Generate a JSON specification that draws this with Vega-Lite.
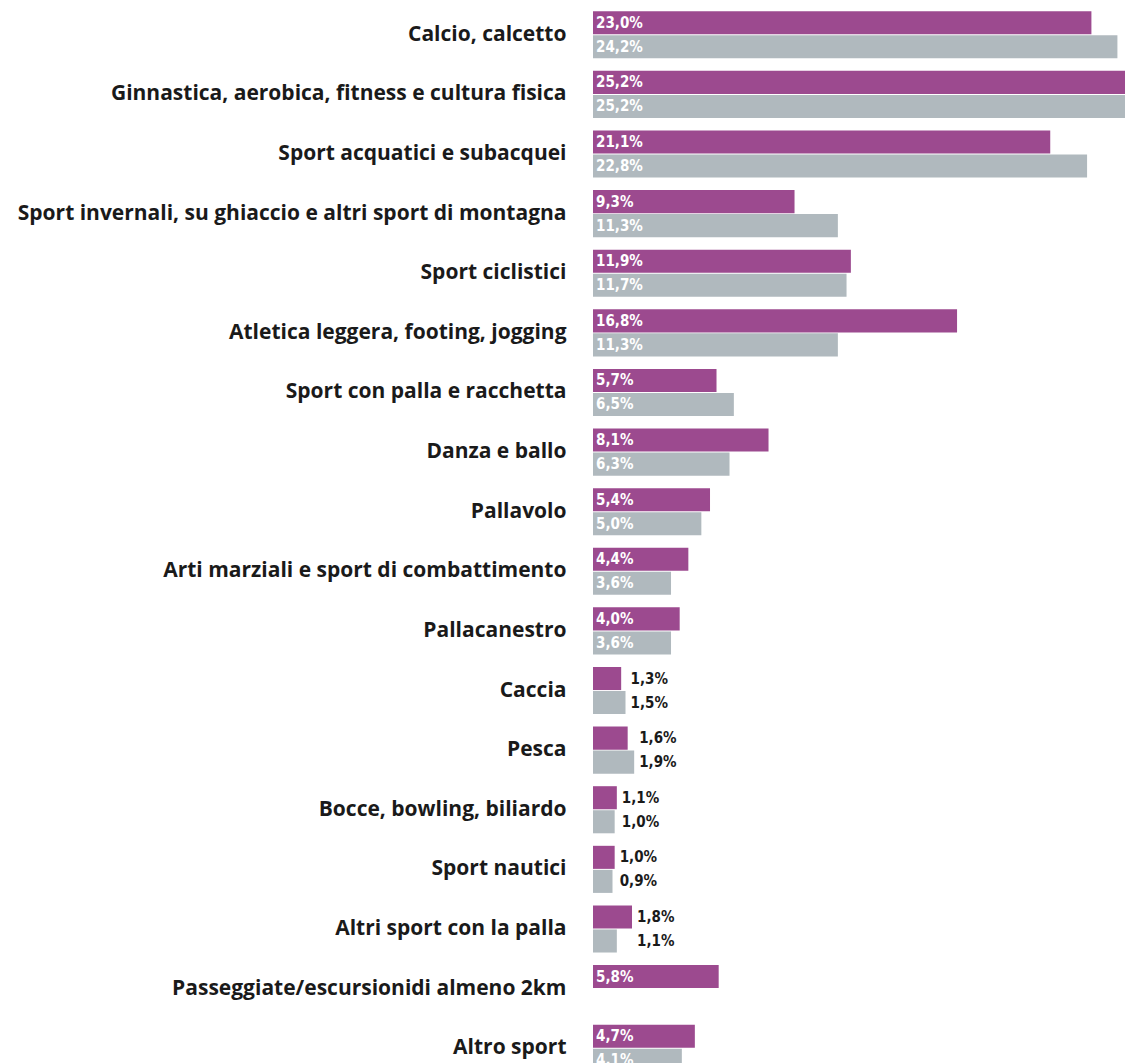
{
  "$schema": "https://vega.github.io/schema/vega-lite/v6.json",
  "width": 532,
  "height": 1058,
  "autosize": {"type": "none"},
  "padding": {"left": 593, "top": 5, "right": 0, "bottom": 0},
  "background": "white",
  "config": {
    "view": {"stroke": null},
    "locale": {"number": {"decimal": ",", "thousands": ".", "grouping": [3], "currency": ["€", ""]}}
  },
  "data": {
    "values": [
      {"cat": "Calcio, calcetto", "s": "s1", "v": 0.230},
      {"cat": "Calcio, calcetto", "s": "s2", "v": 0.242},
      {"cat": "Ginnastica, aerobica, fitness e cultura fisica", "s": "s1", "v": 0.252},
      {"cat": "Ginnastica, aerobica, fitness e cultura fisica", "s": "s2", "v": 0.252},
      {"cat": "Sport acquatici e subacquei", "s": "s1", "v": 0.211},
      {"cat": "Sport acquatici e subacquei", "s": "s2", "v": 0.228},
      {"cat": "Sport invernali, su ghiaccio e altri sport di montagna", "s": "s1", "v": 0.093},
      {"cat": "Sport invernali, su ghiaccio e altri sport di montagna", "s": "s2", "v": 0.113},
      {"cat": "Sport ciclistici", "s": "s1", "v": 0.119},
      {"cat": "Sport ciclistici", "s": "s2", "v": 0.117},
      {"cat": "Atletica leggera, footing, jogging", "s": "s1", "v": 0.168},
      {"cat": "Atletica leggera, footing, jogging", "s": "s2", "v": 0.113},
      {"cat": "Sport con palla e racchetta", "s": "s1", "v": 0.057},
      {"cat": "Sport con palla e racchetta", "s": "s2", "v": 0.065},
      {"cat": "Danza e ballo", "s": "s1", "v": 0.081},
      {"cat": "Danza e ballo", "s": "s2", "v": 0.063},
      {"cat": "Pallavolo", "s": "s1", "v": 0.054},
      {"cat": "Pallavolo", "s": "s2", "v": 0.050},
      {"cat": "Arti marziali e sport di combattimento", "s": "s1", "v": 0.044},
      {"cat": "Arti marziali e sport di combattimento", "s": "s2", "v": 0.036},
      {"cat": "Pallacanestro", "s": "s1", "v": 0.040},
      {"cat": "Pallacanestro", "s": "s2", "v": 0.036},
      {"cat": "Caccia", "s": "s1", "v": 0.013},
      {"cat": "Caccia", "s": "s2", "v": 0.015},
      {"cat": "Pesca", "s": "s1", "v": 0.016},
      {"cat": "Pesca", "s": "s2", "v": 0.019},
      {"cat": "Bocce, bowling, biliardo", "s": "s1", "v": 0.011},
      {"cat": "Bocce, bowling, biliardo", "s": "s2", "v": 0.010},
      {"cat": "Sport nautici", "s": "s1", "v": 0.010},
      {"cat": "Sport nautici", "s": "s2", "v": 0.009},
      {"cat": "Altri sport con la palla", "s": "s1", "v": 0.018},
      {"cat": "Altri sport con la palla", "s": "s2", "v": 0.011},
      {"cat": "Passeggiate/escursionidi almeno 2km", "s": "s1", "v": 0.058},
      {"cat": "Altro sport", "s": "s1", "v": 0.047},
      {"cat": "Altro sport", "s": "s2", "v": 0.041}
    ]
  },
  "encoding": {
    "y": {
      "field": "cat",
      "type": "nominal",
      "sort": ["Calcio, calcetto", "Ginnastica, aerobica, fitness e cultura fisica", "Sport acquatici e subacquei", "Sport invernali, su ghiaccio e altri sport di montagna", "Sport ciclistici", "Atletica leggera, footing, jogging", "Sport con palla e racchetta", "Danza e ballo", "Pallavolo", "Arti marziali e sport di combattimento", "Pallacanestro", "Caccia", "Pesca", "Bocce, bowling, biliardo", "Sport nautici", "Altri sport con la palla", "Passeggiate/escursionidi almeno 2km", "Altro sport"],
      "scale": {"range": [0, 1073], "paddingInner": 0.21, "paddingOuter": 0.105},
      "axis": {
        "title": null,
        "domain": false,
        "ticks": false,
        "labelPadding": 27,
        "labelFont": "Open Sans",
        "labelFontWeight": "bold",
        "labelFontSize": 21,
        "labelColor": "#1a1a1a",
        "labelLimit": 700
      }
    },
    "yOffset": {
      "field": "s",
      "type": "nominal",
      "sort": ["s1", "s2"],
      "scale": {"paddingInner": 0.04}
    }
  },
  "layer": [
    {
      "mark": {"type": "bar", "clip": true},
      "encoding": {
        "x": {"field": "v", "type": "quantitative", "scale": {"domain": [0, 0.2455], "nice": false}, "axis": null},
        "color": {"field": "s", "type": "nominal", "scale": {"domain": ["s1", "s2"], "range": ["#9C4A8F", "#B0B9BE"]}, "legend": null}
      }
    },
    {
      "transform": [{"filter": "datum.v >= 0.03"}],
      "mark": {"type": "text", "align": "left", "baseline": "middle", "dx": 3, "font": "DejaVu Sans Condensed, Liberation Sans Narrow, sans-serif", "fontWeight": "bold", "fontSize": 15, "color": "white"},
      "encoding": {
        "x": {"datum": 0, "type": "quantitative"},
        "text": {"field": "v", "type": "quantitative", "format": ".1%"}
      }
    },
    {
      "transform": [
        {"joinaggregate": [{"op": "max", "field": "v", "as": "m"}], "groupby": ["cat"]},
        {"filter": "datum.v < 0.03"}
      ],
      "mark": {"type": "text", "align": "left", "baseline": "middle", "dx": 5, "font": "DejaVu Sans Condensed, Liberation Sans Narrow, sans-serif", "fontWeight": "bold", "fontSize": 15, "color": "#1a1a1a"},
      "encoding": {
        "x": {"field": "m", "type": "quantitative"},
        "text": {"field": "v", "type": "quantitative", "format": ".1%"}
      }
    }
  ]
}
